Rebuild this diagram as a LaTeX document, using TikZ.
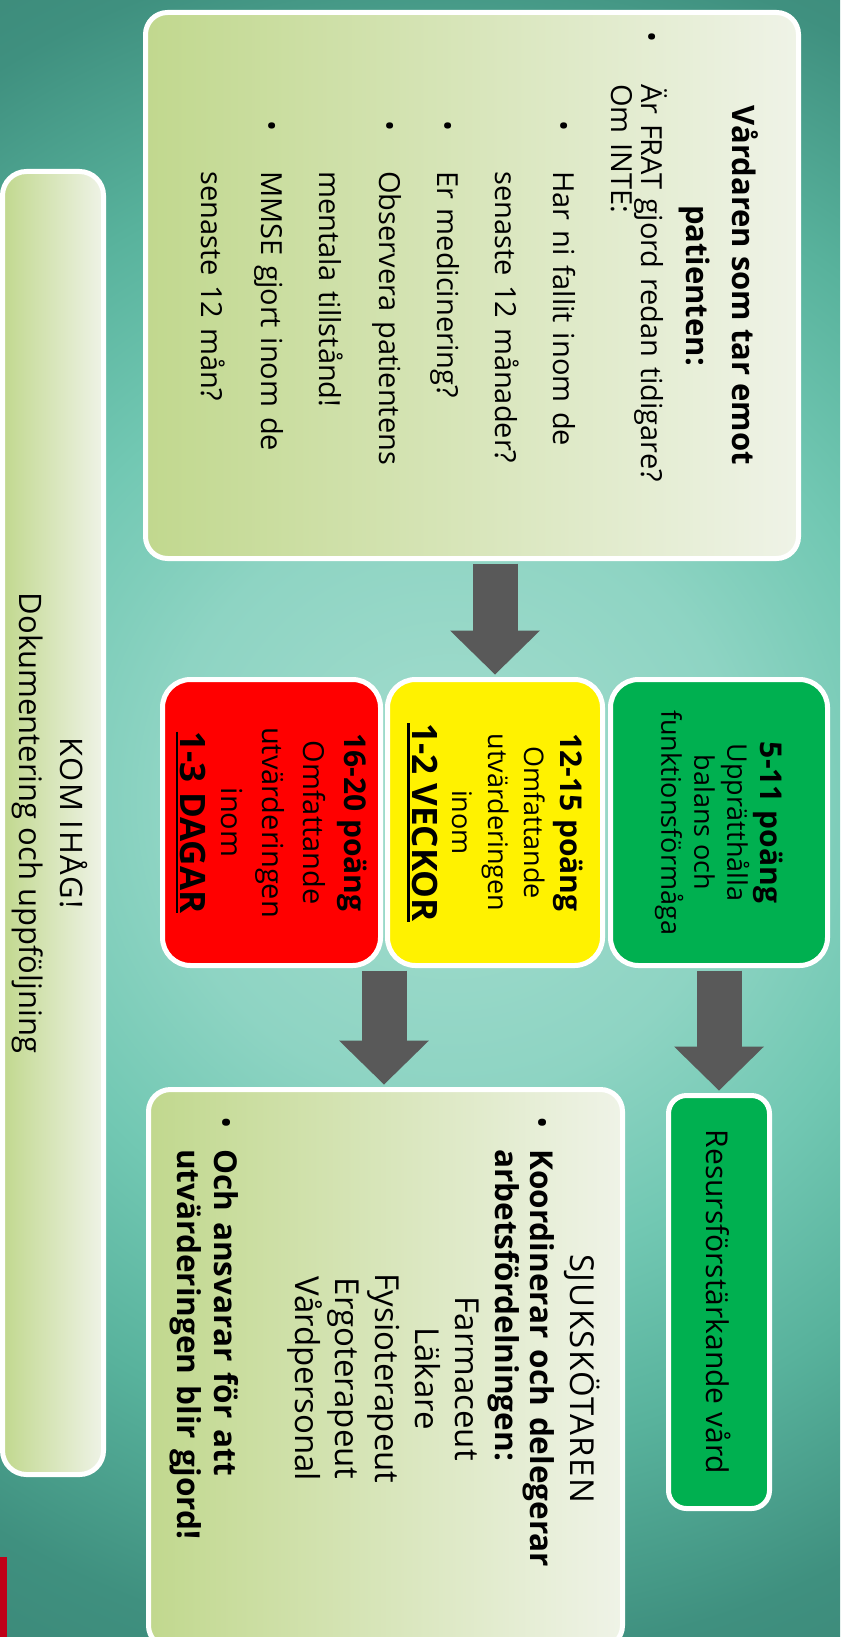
\documentclass[tikz,border=0pt]{standalone}
\usepackage{fontspec}
\setmainfont{Open Sans}
\usetikzlibrary{arrows.meta}

\definecolor{bgA}{HTML}{A4DDCE}
\definecolor{bgB}{HTML}{8ED4C3}
\definecolor{bgC}{HTML}{72C8B3}
\definecolor{bgD}{HTML}{58B29C}
\definecolor{bgE}{HTML}{3F907F}
\definecolor{bgF}{HTML}{357A6B}
\definecolor{paleL}{HTML}{C1D88E}
\definecolor{paleM}{HTML}{D4E2B0}
\definecolor{paleR}{HTML}{EFF3E7}
\definecolor{scoregreen}{HTML}{00B050}
\definecolor{arrowgrey}{HTML}{595959}
\definecolor{barred}{HTML}{C00018}

\pgfdeclareradialshading{bgglow}{\pgfpoint{0bp}{0bp}}{color(0bp)=(bgA); color(8.5bp)=(bgB); color(13.5bp)=(bgC); color(19bp)=(bgD); color(25bp)=(bgE); color(36bp)=(bgF)}

% tjock understrykning
\newcommand\ulbold[1]{\setbox0\hbox{#1}\rlap{\rule[-5pt]{\wd0}{2.5pt}}\box0}

\begin{document}
\begin{tikzpicture}[x=1pt,y=-1pt,
  pale/.style={draw=white,line width=5pt,rounded corners=22pt,left color=paleL,middle color=paleM,right color=paleR,inner sep=0pt},
  score/.style={draw=white,line width=5pt,rounded corners=28pt,fill=#1,inner sep=0pt,minimum height=286pt},
  txt/.style={rotate=-90,inner sep=0pt,text=black},
  bigarrow/.style={draw=arrowgrey,line width=45pt,-{Triangle[width=90pt,length=44pt,line width=0pt]},shorten <=2.5pt,shorten >=2.5pt}]
%bakgrund
\useasboundingbox (0,0) rectangle (840,1637);
\begin{scope}
\clip (0,0) rectangle (840,1637);
\shade[shading=bgglow] (-410,-60) rectangle (1310,1660);
\end{scope}
\fill[barred] (0,1557) rectangle (7,1637);
%rutor
\node[pale,minimum width=653pt,minimum height=546pt] (intake) at (472,285.5) {};
\node[pale,minimum width=101pt,minimum height=1303pt,rounded corners=24pt] (remind) at (53,823) {};
\node[score=scoregreen,minimum width=217pt] (low) at (719,822.5) {};
\node[score=yellow,minimum width=215pt] (mid) at (495,822.5) {};
\node[score=red,minimum width=218pt] (high) at (271.5,822.5) {};
\node[draw=white,line width=5pt,rounded corners=18pt,fill=scoregreen,inner sep=0pt,minimum width=101pt,minimum height=413pt] (resurs) at (719,1302) {};
\node[pale,minimum width=474pt,minimum height=558pt] (nurse) at (385.5,1368.5) {};
%pilar
\draw[bigarrow] (intake.south -| mid.north) -- (mid.north);
\draw[bigarrow] (low.south) -- (resurs.north);
\path (high.south east) -- (mid.south west) coordinate[pos=0.5] (split);
\draw[bigarrow] (split) -- (split |- nurse.north);
%texter
\node[txt,align=center,font=\fontsize{31}{46}\selectfont\bfseries] (intakehead) at (719,285.5) {Vårdaren som tar emot\\patienten:};
\node[txt,anchor=base west,text width=540pt,align=left,font=\fontsize{29}{30}\selectfont] (intakebody) at (641,31) {%
\makebox[53pt][l]{\textbullet}Är FRAT gjord redan tidigare?\\
\hspace*{53pt}Om INTE:\\[28pt]
\hspace*{89pt}\makebox[51pt][l]{\textbullet}Har ni fallit inom de\\[28pt]
\hspace*{140pt}senaste 12 månader?\\[28pt]
\hspace*{89pt}\makebox[51pt][l]{\textbullet}Er medicinering?\\[28pt]
\hspace*{89pt}\makebox[51pt][l]{\textbullet}Observera patientens\\[28pt]
\hspace*{140pt}mentala tillstånd!\\[28pt]
\hspace*{89pt}\makebox[51pt][l]{\textbullet}MMSE gjort inom de\\[28pt]
\hspace*{140pt}senaste 12 mån?};
\node[txt,align=center,font=\fontsize{27}{33}\selectfont] (lowtext) at (low.center) {{\fontsize{30}{33}\selectfont\bfseries 5-11 poäng}\\Upprätthålla\\balans och\\funktionsförmåga};
\node[txt,align=center,font=\fontsize{27}{36}\selectfont] (midtext) at (mid.center) {{\fontsize{30}{36}\selectfont\bfseries 12-15 poäng}\\Omfattande\\utvärderingen\\inom\\[4pt]{\fontsize{35}{36}\selectfont\bfseries\ulbold{1-2 VECKOR}}};
\node[txt,align=center,font=\fontsize{29}{41}\selectfont] (hightext) at (high.center) {{\fontsize{30}{41}\selectfont\bfseries 16-20 poäng}\\Omfattande\\utvärderingen\\inom\\{\fontsize{35}{41}\selectfont\bfseries\ulbold{1-3 DAGAR}}};
\node[txt,font=\fontsize{30}{30}\selectfont] (resurstext) at (resurs.center) {Resursförstärkande vård};
\node[txt,anchor=base west,text width=525pt,align=left,font=\fontsize{33}{40}\selectfont] (nursetext) at (570,1116) {%
\makebox[\linewidth]{\addfontfeature{LetterSpace=4}SJUKSKÖTAREN}\\
\makebox[33pt][l]{\textbullet}{\fontsize{31.5}{40}\selectfont\bfseries Koordinerar och delegerar}\\[-5pt]
\hspace*{33pt}{\fontsize{31.5}{40}\selectfont\bfseries arbetsfördelningen:}\\
\makebox[\linewidth]{Farmaceut}\\
\makebox[\linewidth]{Läkare}\\
\makebox[\linewidth]{Fysioterapeut}\\
\makebox[\linewidth]{Ergoterapeut}\\
\makebox[\linewidth]{Vårdpersonal}\\[41pt]
\makebox[33pt][l]{\textbullet}{\fontsize{31.5}{40}\selectfont\bfseries Och ansvarar för att}\\[-3pt]
\hspace*{33pt}{\fontsize{31.5}{40}\selectfont\bfseries utvärderingen blir gjord!}};
\node[txt,align=center,font=\fontsize{31}{41}\selectfont] (remindtext) at (50,823) {{\addfontfeature{LetterSpace=5}KOM IHÅG!}\\Dokumentering och uppföljning};
\end{tikzpicture}
\end{document}
